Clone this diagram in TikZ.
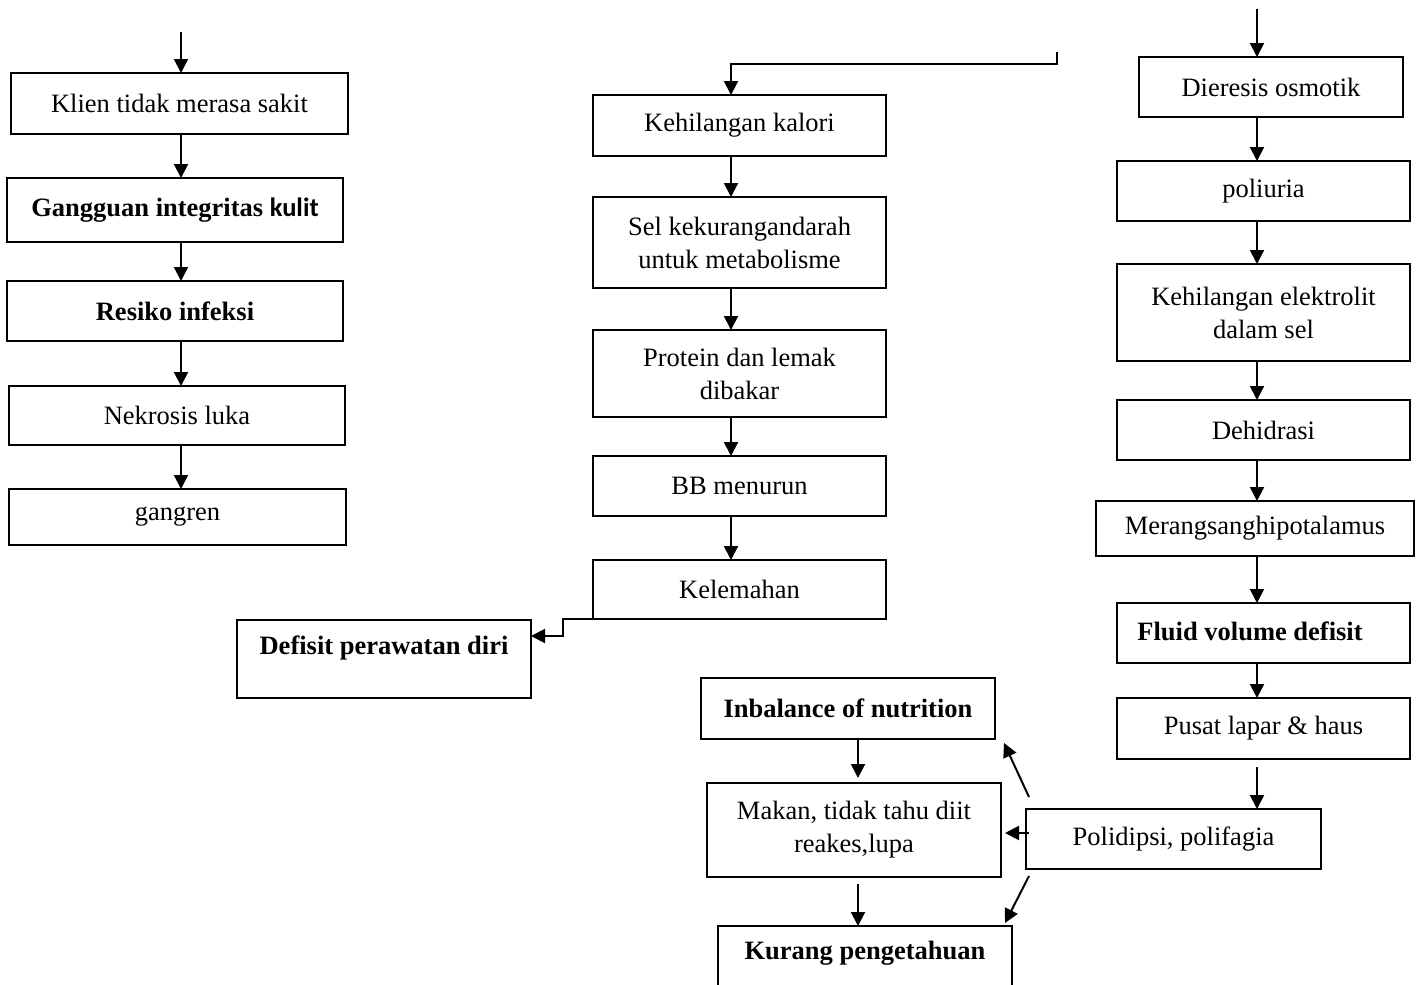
\documentclass[tikz,border=0pt]{standalone}
\usepackage{fontspec}
\setmainfont{Liberation Serif}
\newfontfamily\carl{Carlito}
\usetikzlibrary{arrows.meta,calc}
\begin{document}
\begin{tikzpicture}[x=1pt,y=-1pt,line width=2pt,
  box/.style={draw,rectangle,inner sep=0pt,outer sep=0pt,align=center,anchor=north west,font=\fontsize{26.5}{33}\selectfont},
  bbox/.style={box,font=\fontsize{26.5}{33}\selectfont\bfseries},
  btxt/.style={inner sep=0pt,outer sep=0pt,font=\fontsize{26.5}{33}\selectfont\bfseries},
  arr/.style={-{Triangle[width=14pt,length=14pt]},line width=2pt}]
\useasboundingbox (0,0) rectangle (1416,985);
\coordinate (cL) at (181,0);
\coordinate (cM) at (731,0);
\coordinate (cR) at (1257,0);
\coordinate (cB) at (858,0);
% left column
\node[box,minimum width=337pt,minimum height=61pt] (k1) at (11,73) {Klien tidak merasa sakit};
\node[bbox,minimum width=336pt,minimum height=64pt] (k2) at (7,178) {Gangguan integritas {\carl\bfseries kulit}};
\node[bbox,minimum width=336pt,minimum height=60pt] (k3) at (7,281) {Resiko infeksi};
\node[box,minimum width=336pt,minimum height=59pt] (k4) at (9,386) {Nekrosis luka};
\node[box,minimum width=337pt,minimum height=56pt] (k5) at (9,489) {gangren};
% middle column
\node[box,minimum width=293pt,minimum height=61pt] (m1) at (593,95) {Kehilangan kalori};
\node[box,minimum width=293pt,minimum height=91pt] (m2) at (593,197) {Sel kekurangandarah\\untuk metabolisme};
\node[box,minimum width=293pt,minimum height=87pt] (m3) at (593,330) {Protein dan lemak\\dibakar};
\node[box,minimum width=293pt,minimum height=60pt] (m4) at (593,456) {BB menurun};
\node[box,minimum width=293pt,minimum height=59pt] (m5) at (593,560) {Kelemahan};
\node[box,minimum width=294pt,minimum height=78pt] (def) at (237,620) {};
\node[btxt] (deft) at ($(def.north)+(0,28)$) {Defisit perawatan diri};
% right column
\node[box,minimum width=264pt,minimum height=60pt] (r1) at (1139,57) {Dieresis osmotik};
\node[box,minimum width=293pt,minimum height=60pt] (r2) at (1117,161) {poliuria};
\node[box,minimum width=293pt,minimum height=97pt] (r3) at (1117,264) {Kehilangan elektrolit\\dalam sel};
\node[box,minimum width=293pt,minimum height=60pt] (r4) at (1117,400) {Dehidrasi};
\node[box,minimum width=318pt,minimum height=55pt] (r5) at (1096,501) {Merangsanghipotalamus};
\node[box,minimum width=293pt,minimum height=60pt] (r6) at (1117,603) {};
\node[btxt] (r6t) at (1250,631) {Fluid volume defisit};
\node[box,minimum width=293pt,minimum height=61pt] (r7) at (1117,698) {Pusat lapar \& haus};
% bottom
\node[box,minimum width=295pt,minimum height=60pt] (poli) at (1026,809) {Polidipsi, polifagia};
\node[bbox,minimum width=294pt,minimum height=61pt] (inb) at (701,678) {Inbalance of nutrition};
\node[box,minimum width=294pt,minimum height=94pt] (mak) at (707,783) {Makan, tidak tahu diit\\reakes,lupa};
\node[box,minimum width=294pt,minimum height=80pt] (kur) at (718,926) {};
\node[btxt] (kurt) at ($(kur.north)+(0,27)$) {Kurang pengetahuan};
% left arrows
\coordinate (sL) at (181,32);
\draw[arr] (sL) -- (k1.north -| cL);
\draw[arr] (k1.south -| cL) -- (k2.north -| cL);
\draw[arr] (k2.south -| cL) -- (k3.north -| cL);
\draw[arr] (k3.south -| cL) -- (k4.north -| cL);
\draw[arr] (k4.south -| cL) -- (k5.north -| cL);
% middle arrows
\coordinate (t1) at (1057,52);
\coordinate (t2) at (1057,64);
\draw[arr] (t1) -- (t2) -- (t2 -| cM) -- (m1.north -| cM);
\draw[arr] (m1.south -| cM) -- (m2.north -| cM);
\draw[arr] (m2.south -| cM) -- (m3.north -| cM);
\draw[arr] (m3.south -| cM) -- (m4.north -| cM);
\draw[arr] (m4.south -| cM) -- (m5.north -| cM);
\coordinate (d2) at (563,636);
\draw[arr] (m5.south west) -- (m5.south west -| d2) -- (d2) -- (d2 -| def.east);
% right arrows
\coordinate (sR) at (1257,9);
\draw[arr] (sR) -- (r1.north -| cR);
\draw[arr] (r1.south -| cR) -- (r2.north -| cR);
\draw[arr] (r2.south -| cR) -- (r3.north -| cR);
\draw[arr] (r3.south -| cR) -- (r4.north -| cR);
\draw[arr] (r4.south -| cR) -- (r5.north -| cR);
\draw[arr] (r5.south -| cR) -- (r6.north -| cR);
\draw[arr] (r6.south -| cR) -- (r7.north -| cR);
\draw[arr] ($(r7.south -| cR)+(0,8)$) -- (poli.north -| cR);
% bottom arrows
\draw[arr] (inb.south -| cB) -- ($(mak.north -| cB)+(0,-5)$);
\draw[arr] ($(mak.south -| cB)+(0,7)$) -- (kur.north -| cB);
\draw[arr] ($(poli.north west)+(3,-12)$) -- ($(inb.south east)+(9,4)$);
\draw[arr] ($(poli.west)+(3,-6)$) -- ($(mak.east)+(4,3)$);
\draw[arr] ($(poli.south west)+(3,7)$) -- ($(kur.north east)+(-7,-3)$);
\end{tikzpicture}
\end{document}
